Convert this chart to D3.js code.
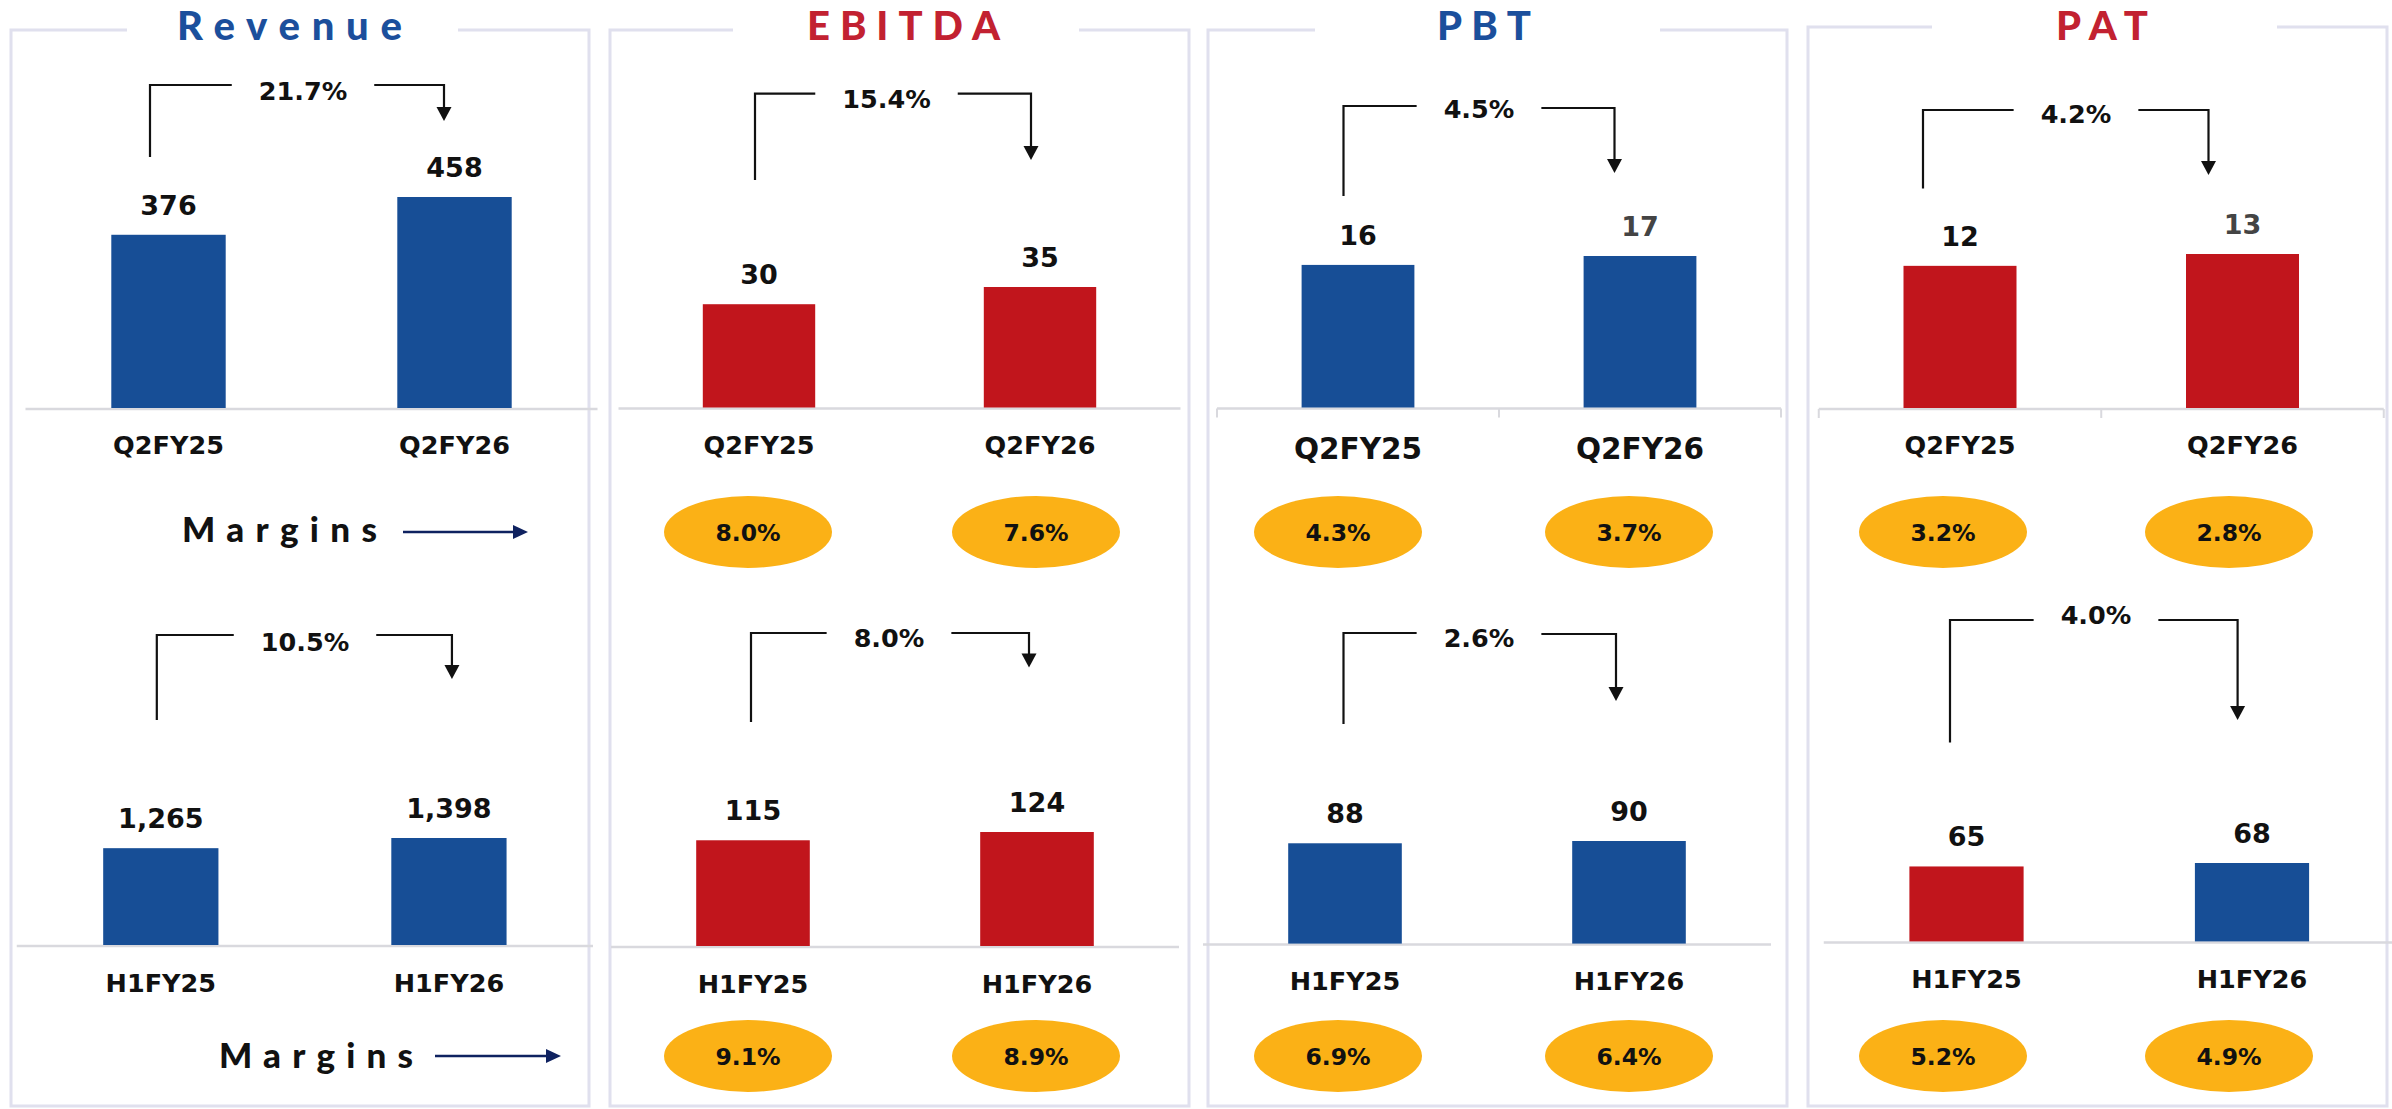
<!DOCTYPE html>
<html>
<head>
<meta charset="utf-8">
<script src="https://cdn.jsdelivr.net/npm/d3@7/dist/d3.min.js"></script>
<style>
  html, body { margin: 0; padding: 0; background: #ffffff; }
  svg { display: block; }
  text { font-family: "DejaVu Sans", Verdana, sans-serif; font-weight: 700; }
  text.spaced { font-family: Lato, "Open Sans", sans-serif; font-weight: 900; }
</style>
</head>
<body>
<svg id="chart" width="2392" height="1109"></svg>
<script>
// ---- data ----
const metrics = ["Revenue", "EBITDA", "PBT", "PAT"];
const quarterPeriods = ["Q2FY25", "Q2FY26"];
const halfPeriods = ["H1FY25", "H1FY26"];
const quarterValues = [[376, 458], [30, 35], [16, 17], [12, 13]];
const halfValues = [[1265, 1398], [115, 124], [88, 90], [65, 68]];
const quarterGrowth = ["21.7%", "15.4%", "4.5%", "4.2%"];
const halfGrowth = ["10.5%", "8.0%", "2.6%", "4.0%"];
const quarterMargins = [null, ["8.0%", "7.6%"], ["4.3%", "3.7%"], ["3.2%", "2.8%"]];
const halfMargins = [null, ["9.1%", "8.9%"], ["6.9%", "6.4%"], ["5.2%", "4.9%"]];
const marginsLabel = "Margins";

// ---- styling & layout ----
const BLUE = "#174e96", RED = "#c1151c", GOLD = "#fbb116", NAVY = "#0f2260";
const INK = "#111111", GREYINK = "#444444";
const FRAME = "#e0e0ee", BASELINE = "#d9d9de";
const fmt = d3.format(",");

const panels = [
  { left: 11,   right: 589,  top: 30, gap: [127, 458],   titleX: 289.5, titleW: 225, color: "#1b4f9c" },
  { left: 610,  right: 1189, top: 30, gap: [733, 1079],  titleX: 903.5, titleW: 193, color: "#c22131" },
  { left: 1208, right: 1787, top: 30, gap: [1315, 1660], titleX: 1484,  titleW: 94,  color: "#1b4f9c" },
  { left: 1808, right: 2387, top: 27, gap: [1932, 2277], titleX: 2102,  titleW: 92,  color: "#c22131" }
];
const frameBottom = 1106;

// horizontal placement of the margin pills in each panel
const pillRanges = [null, [604, 1180], [1192.5, 1774.5], [1800, 2372]];

const rows = [
  {
    periods: quarterPeriods, values: quarterValues, growth: quarterGrowth, margins: quarterMargins,
    axis: [[25.5, 597.5], [618.5, 1180.5], [1217, 1781], [1818.75, 2383.75]],
    base: [408, 407.5, 407.5, 408],
    tallest: [211, 120.5, 151.5, 154],
    boundaryTicks: [false, false, true, true],
    catY: [454, 453.6, 459, 454],
    catSize: [25.5, 25.5, 29.5, 25.5],
    barColors: [[BLUE, BLUE], [RED, RED], [BLUE, BLUE], [RED, RED]],
    valueInk: [[INK, INK], [INK, INK], [INK, GREYINK], [INK, GREYINK]],
    bracket: [
      { dl: -18.5, dr: -10.5, topL: 85,  topR: 85,  foot: 157,   tip: 121, textY: 100,   cx: 303 },
      { dl: -4,    dr: -9,    topL: 93.6, topR: 93.6, foot: 180, tip: 160, textY: 108,   cx: 886.5 },
      { dl: -14.5, dr: -25.5, topL: 106, topR: 108, foot: 196,   tip: 173, textY: 118,   cx: 1479 },
      { dl: -37,   dr: -34,   topL: 110, topR: 110, foot: 188.6, tip: 175, textY: 122.5, cx: 2076 }
    ],
    pillY: 532,
    marginsText: { x0: 182, x1: 377, y: 542 },
    marginsArrow: { x0: 403, x1: 528, y: 532 }
  },
  {
    periods: halfPeriods, values: halfValues, growth: halfGrowth, margins: halfMargins,
    axis: [[16.75, 593], [611, 1179], [1203, 1771], [1823.75, 2394.75]],
    base: [945, 946, 943.6, 941.4],
    tallest: [107, 114, 102.6, 78.4],
    boundaryTicks: [false, false, false, false],
    catY: [992, 993, 990, 988],
    catSize: [25.5, 25.5, 25.5, 25.5],
    barColors: [[BLUE, BLUE], [RED, RED], [BLUE, BLUE], [RED, BLUE]],
    valueInk: [[INK, INK], [INK, INK], [INK, INK], [INK, INK]],
    bracket: [
      { dl: -4,    dr: 3,     topL: 635, topR: 635, foot: 720,   tip: 679,   textY: 650.5, cx: 305 },
      { dl: -2,    dr: -8,    topL: 633, topR: 633, foot: 722,   tip: 667.6, textY: 647,   cx: 889 },
      { dl: -1.5,  dr: -13,   topL: 633, topR: 634, foot: 724,   tip: 701,   textY: 647,   cx: 1479 },
      { dl: -16.5, dr: -14.4, topL: 620, topR: 620, foot: 742.5, tip: 720,   textY: 624,   cx: 2096 }
    ],
    pillY: 1056,
    marginsText: { x0: 182 + 37, x1: 377 + 36, y: 1068 },
    marginsArrow: { x0: 435, x1: 561, y: 1056 }
  }
];

const svg = d3.select("#chart");

// ---- panel frames and titles ----
const frames = svg.append("g").attr("class", "frames");
panels.forEach((p, i) => {
  frames.append("path")
    .attr("d", `M${p.gap[0]},${p.top} H${p.left} V${frameBottom} H${p.right} V${p.top} H${p.gap[1]}`)
    .attr("fill", "none").attr("stroke", FRAME).attr("stroke-width", 3);
  frames.append("text").attr("class", "spaced")
    .attr("x", p.titleX - p.titleW / 2).attr("y", 40)
    .attr("textLength", p.titleW).attr("lengthAdjust", "spacing")
    .attr("font-size", 40).attr("fill", p.color)
    .text(metrics[i]);
});

// arrowhead pointing down with its tip at (x, y)
function downHead(x, y, w, h) {
  return `M${x - w / 2},${y - h} L${x + w / 2},${y - h} L${x},${y} Z`;
}

// ---- the eight mini bar charts ----
rows.forEach((row, r) => {
  metrics.forEach((metric, m) => {
    const g = svg.append("g").attr("class", `chart ${metric}-${r}`);
    const vals = row.values[m];
    const base = row.base[m];

    const x = d3.scaleBand().domain(row.periods).range(row.axis[m])
      .paddingInner(0.6).paddingOuter(0.3);
    const y = d3.scaleLinear().domain([0, d3.max(vals)]).range([base, base - row.tallest[m]]);

    // baseline with optional category boundary ticks
    const [a0, a1] = row.axis[m];
    g.append("line").attr("x1", a0).attr("x2", a1).attr("y1", base + 1).attr("y2", base + 1)
      .attr("stroke", BASELINE).attr("stroke-width", 2.5);
    if (row.boundaryTicks[m]) {
      const bounds = [a0, ...row.periods.slice(1).map(p => x(p) - x.step() * x.paddingInner() / 2), a1];
      g.selectAll("line.tick").data(bounds).join("line").attr("class", "tick")
        .attr("x1", d => d).attr("x2", d => d).attr("y1", base + 1).attr("y2", base + 10)
        .attr("stroke", BASELINE).attr("stroke-width", 2);
    }

    // bars
    g.selectAll("rect.bar").data(vals).join("rect").attr("class", "bar")
      .attr("x", (d, i) => x(row.periods[i]))
      .attr("width", x.bandwidth())
      .attr("y", d => y(d))
      .attr("height", d => base - y(d))
      .attr("fill", (d, i) => row.barColors[m][i]);

    // value labels
    g.selectAll("text.value").data(vals).join("text").attr("class", "value")
      .attr("x", (d, i) => x(row.periods[i]) + x.bandwidth() / 2)
      .attr("y", d => y(d) - 20)
      .attr("text-anchor", "middle").attr("font-size", 27)
      .attr("fill", (d, i) => row.valueInk[m][i])
      .text(d => fmt(d));

    // category labels
    g.selectAll("text.cat").data(row.periods).join("text").attr("class", "cat")
      .attr("x", d => x(d) + x.bandwidth() / 2)
      .attr("y", row.catY[m])
      .attr("text-anchor", "middle").attr("font-size", row.catSize[m])
      .attr("fill", INK)
      .text(d => d);

    // growth bracket from first bar to second
    const b = row.bracket[m];
    const lx = x(row.periods[0]) + x.bandwidth() / 2 + b.dl;
    const rx = x(row.periods[1]) + x.bandwidth() / 2 + b.dr;
    const gl = g.append("text")
      .attr("x", b.cx).attr("y", b.textY)
      .attr("text-anchor", "middle").attr("font-size", 25.5).attr("fill", INK)
      .text(row.growth[m]);
    const half = gl.node().getComputedTextLength() / 2;
    const pad = 27;
    g.append("path")
      .attr("d", `M${lx},${b.foot} V${b.topL} H${b.cx - half - pad}`)
      .attr("fill", "none").attr("stroke", INK).attr("stroke-width", 2.2);
    g.append("path")
      .attr("d", `M${b.cx + half + pad},${b.topR} H${rx} V${b.tip - 12}`)
      .attr("fill", "none").attr("stroke", INK).attr("stroke-width", 2.2);
    g.append("path").attr("d", downHead(rx, b.tip, 15, 14)).attr("fill", INK);

    // margin pills
    const mg = row.margins[m];
    if (mg) {
      const px = d3.scalePoint().domain(row.periods).range(pillRanges[m]).padding(0.5);
      const pill = g.selectAll("g.pill").data(mg).join("g").attr("class", "pill")
        .attr("transform", (d, i) => `translate(${px(row.periods[i])},${row.pillY})`);
      pill.append("ellipse").attr("rx", 84).attr("ry", 36).attr("fill", GOLD);
      pill.append("text").attr("y", 8.5).attr("text-anchor", "middle")
        .attr("font-size", 23.5).attr("fill", INK).text(d => d);
    }
  });

  // "Margins" pointer in the Revenue column
  const mt = row.marginsText, ma = row.marginsArrow;
  svg.append("text").attr("class", "spaced")
    .attr("x", mt.x0).attr("y", mt.y)
    .attr("textLength", mt.x1 - mt.x0).attr("lengthAdjust", "spacing")
    .attr("font-size", 35).attr("fill", INK)
    .text(marginsLabel);
  svg.append("line")
    .attr("x1", ma.x0).attr("x2", ma.x1 - 13).attr("y1", ma.y).attr("y2", ma.y)
    .attr("stroke", NAVY).attr("stroke-width", 2.5);
  svg.append("path")
    .attr("d", `M${ma.x1},${ma.y} L${ma.x1 - 15},${ma.y - 7} L${ma.x1 - 15},${ma.y + 7} Z`)
    .attr("fill", NAVY);
});
</script>
</body>
</html>
